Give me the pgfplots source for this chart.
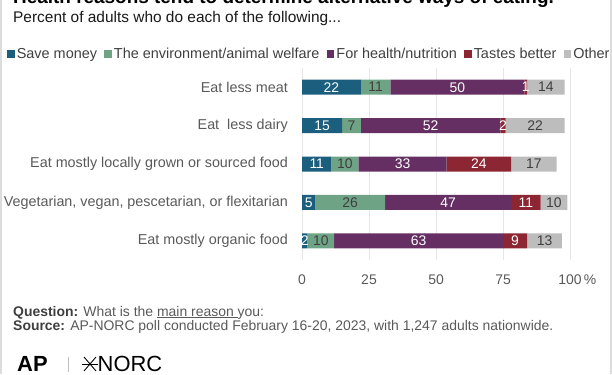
\documentclass[border=0pt]{standalone}
\usepackage{pgfplots}
\pgfplotsset{compat=1.18}
\usepackage{pgfplotstable}
\usepackage{fontspec}
\setmainfont{Liberation Sans}
\definecolor{cSave}{HTML}{1B5E7E}
\definecolor{cEnv}{HTML}{6FA386}
\definecolor{cHealth}{HTML}{652F63}
\definecolor{cTaste}{HTML}{8C2633}
\definecolor{cOther}{HTML}{BDBDBD}
\definecolor{txt}{HTML}{595959}
\definecolor{dark}{HTML}{3F3F3F}
\definecolor{gridc}{HTML}{E6E6E6}
\definecolor{frame}{HTML}{DCDCDC}

\pgfplotstableread{
row save env health taste other
0 22 11 50 1 14
1 15 7 52 2 22
2 11 10 33 24 17
3 5 26 47 11 10
4 2 10 63 9 13
}\data

% label positions (segment centres) and values
\pgfplotstableread{
x y l
11 0 22
58 0 50
83.5 0 1
7.5 1 15
48 1 52
75 1 2
5.5 2 11
37.5 2 33
66 2 24
2.5 3 5
54.5 3 47
83.5 3 11
1 4 2
43.5 4 63
79.5 4 9
}\whitelabels
\pgfplotstableread{
x y l
27.5 0 11
91 0 14
18.5 1 7
87 1 22
16 2 10
86.5 2 17
18 3 26
94 3 10
7 4 10
90.5 4 13
}\darklabels

\pgfplotsset{
  common/.style={
    at={(302bp,114bp)}, anchor=south west,
    scale only axis, width=268bp, height=192bp,
    xmin=0, xmax=100, ymin=-0.5, ymax=4.5,
    y dir=reverse,
  }
}

\begin{document}
\begin{tikzpicture}[x=1bp,y=1bp]
\path[use as bounding box] (0,0) rectangle (612,374);
% frame
\fill[frame] (0,0) rectangle (2,374);
\fill[frame] (609.5,0) rectangle (612,374);

% title (cut at top) and subtitle
\node[anchor=base west, inner sep=0, font=\bfseries\fontsize{19}{22}\selectfont, text=black] at (13,371) {Health reasons tend to determine alternative ways of eating.};
\node[anchor=base west, inner sep=0, font=\fontsize{15.5}{18}\selectfont, text=black!90] at (13,351.5) {Percent of adults who do each of the following...};

\begin{axis}[common,
  xbar stacked, bar width=15bp,
  axis line style={draw=none}, tick style={draw=none},
  major tick length=0,
  xtick={0,25,50,75,100},
  xticklabels={0,25,50,75,100\rlap{\,\%}},
  xmajorgrids, grid style={color=gridc, line width=1bp},
  xticklabel style={anchor=north, inner sep=0pt, yshift=-15bp, font=\fontsize{14}{16}\selectfont, text=txt},
  /pgf/number format/assume math mode=true,
  ytick={0,1,2,3,4},
  yticklabels={Eat less meat, Eat\ \ less dairy, Eat mostly locally grown or sourced food, {Vegetarian, vegan, pescetarian, or flexitarian\hspace{5bp}}, Eat mostly organic food},
  yticklabel style={anchor=east, inner sep=0pt, xshift=-14bp, font=\fontsize{14.4}{16}\selectfont, text=txt},
  legend columns=-1,
  legend style={draw=none, fill=none, at={(-1.1007,1.074)}, anchor=west, inner sep=0pt,
    font=\fontsize{14.5}{16}\selectfont, text=dark,
    /tikz/every even column/.append style={column sep=5.3bp}},
  legend image code/.code={\fill[#1, draw=none] (0bp,-3.8bp) rectangle (7.6bp,3.8bp);},
]
\addplot[fill=cSave, draw=none] table[x=save, y=row] {\data};
\addplot[fill=cEnv, draw=none] table[x=env, y=row] {\data};
\addplot[fill=cHealth, draw=none] table[x=health, y=row] {\data};
\addplot[fill=cTaste, draw=none] table[x=taste, y=row] {\data};
\addplot[fill=cOther, draw=none] table[x=other, y=row] {\data};
\legend{Save money, The environment/animal welfare, For health/nutrition, Tastes better, Other}
\end{axis}

\begin{axis}[common, hide axis]
\addplot[draw=none, mark=none, nodes near coords, point meta=explicit symbolic,
  nodes near coords style={anchor=center, inner sep=0pt, font=\fontsize{14}{16}\selectfont, text=white}]
  table[x=x, y=y, meta=l] {\whitelabels};
\addplot[draw=none, mark=none, nodes near coords, point meta=explicit symbolic,
  nodes near coords style={anchor=center, inner sep=0pt, font=\fontsize{14}{16}\selectfont, text=dark}]
  table[x=x, y=y, meta=l] {\darklabels};
\end{axis}

% footer
\node[anchor=base west, inner sep=0, font=\fontsize{14}{16}\selectfont, text=txt] at (13,58) {\textbf{\color{dark}Question:} What is the \underline{main reason\ }you:};
\node[anchor=base west, inner sep=0, font=\fontsize{14}{16}\selectfont, text=txt] at (13,44) {\textbf{\color{dark}Source:} AP-NORC poll conducted February 16-20, 2023, with 1,247 adults nationwide.};

% logos
\node[anchor=base west, inner sep=0, text depth=0pt, font=\bfseries\fontsize{22}{24}\selectfont, text=black] at (17,2.5) {AP};
\draw[black!25, line width=0.8bp] (68,2.5) -- (68,17);
\begin{scope}[black, line width=0.9bp]
\draw (84,3) -- (96,17);
\draw (84,17) -- (96,3);
\draw (82,10) -- (98,10);
\end{scope}
\node[anchor=base west, inner sep=0, text depth=0pt, font=\fontsize{22}{24}\selectfont, text=black] at (97.5,2.5) {NORC};
\end{tikzpicture}
\end{document}
